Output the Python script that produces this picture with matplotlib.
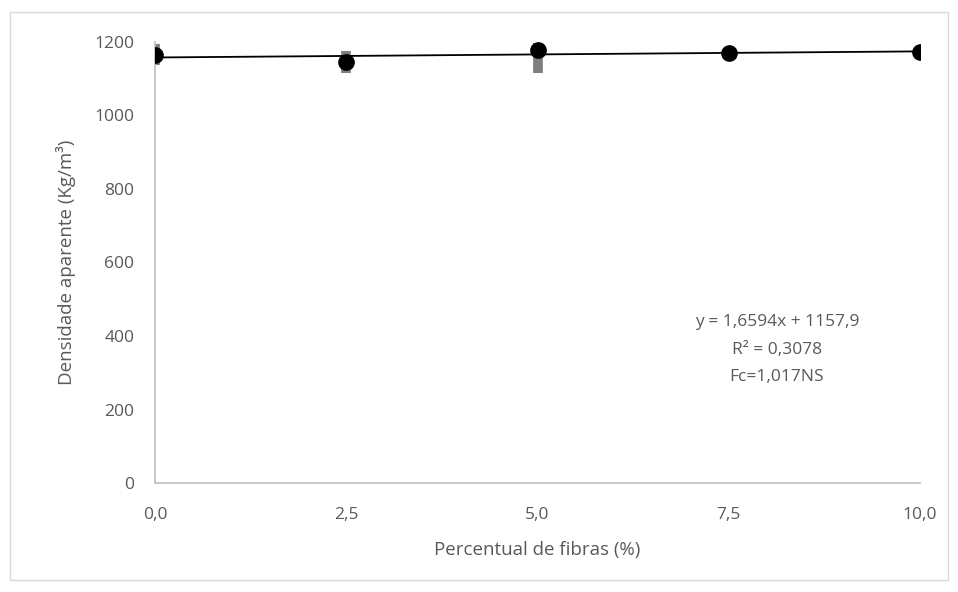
import matplotlib
matplotlib.use("Agg")
import matplotlib.pyplot as plt
from matplotlib.patches import Rectangle
import numpy as np

fibras = [0.0, 2.5, 5.0, 7.5, 10.0]
densidade = [1165, 1146, 1178, 1170, 1173]
erro_inf = [28, 30, 62, 10, 8]
erro_sup = [30, 30, 20, 10, 8]
slope, intercept = 1.6594, 1157.9
x_ticks = [0.0, 2.5, 5.0, 7.5, 10.0]
x_ticklabels = ["0,0", "2,5", "5,0", "7,5", "10,0"]
y_ticks = [0, 200, 400, 600, 800, 1000, 1200]
eq_lines = ["y = 1,6594x + 1157,9", "R² = 0,3078", "Fc=1,017NS"]

plt.rcParams['font.family'] = ['Open Sans', 'DejaVu Sans']
grey = '#595959'

fig = plt.figure(figsize=(9.58, 5.92), dpi=100)
fig.patches.append(Rectangle((10/958, 1-580/592), 938/958, 568/592,
                             transform=fig.transFigure, fill=False,
                             edgecolor='#d9d9d9', linewidth=1))
ax = fig.add_axes([155/958, 1-483/592, 765/958, 441/592])

ax.errorbar(fibras, densidade, yerr=[erro_inf, erro_sup], fmt='none',
            ecolor='#7f7f7f', elinewidth=7, capsize=0, zorder=2)
xl = np.array([0, 10])
ax.plot(xl, slope * xl + intercept, color='black', linewidth=1.3, zorder=3)
ax.plot(fibras, densidade, 'o', color='black', markersize=11, zorder=4)

ax.set_xlim(0, 10)
ax.set_ylim(0, 1200)
ax.set_xticks(x_ticks)
ax.set_xticklabels(x_ticklabels)
ax.set_yticks(y_ticks)
for s in ['top', 'right']:
    ax.spines[s].set_visible(False)
for s in ['left', 'bottom']:
    ax.spines[s].set_color('#bfbfbf')
    ax.spines[s].set_linewidth(1.2)
ax.tick_params(length=0, labelsize=12.5, colors=grey)
ax.tick_params(axis='x', pad=17)
ax.tick_params(axis='y', pad=15)
ax.set_xlabel("Percentual de fibras (%)", fontsize=13.5, color=grey, labelpad=13)
ax.set_ylabel("Densidade aparente (Kg/m³)", fontsize=13.5, color=grey, labelpad=13)
ax.patch.set_visible(False)

for i, t in enumerate(eq_lines):
    fig.text(777/958, 1-(322 + 27.5*i)/592, t, ha='center', va='center',
             fontsize=12.5, color=grey)

fig.savefig("out.png", dpi=100)
